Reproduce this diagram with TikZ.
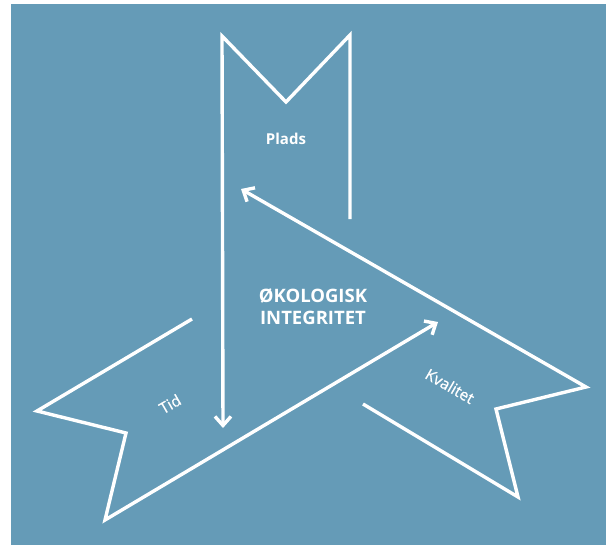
\documentclass[tikz,border=0pt]{standalone}
\usepackage{fontspec}
\setmainfont{Open Sans}
\usetikzlibrary{arrows.meta}
\definecolor{panel}{RGB}{101,155,183}
\tikzset{
  band/.style={draw=white, line width=3.4pt, miter limit=20},
  bandarrow/.style={band, -{Straight Barb[length=9pt,width=16pt,line width=3.4pt]}},
  label/.style={text=white, font=\addfontfeature{FakeBold=0.8}\fontsize{15.5}{18}\selectfont, inner sep=0pt},
  title/.style={text=white, font=\bfseries\fontsize{18.5}{22}\selectfont, align=center, inner sep=0pt}
}
\begin{document}
\begin{tikzpicture}[x=1pt,y=-1pt]
  \useasboundingbox (0,0) rectangle (606,555);
  \fill[panel] (11,4) rectangle (606,545);

  % Plads banner
  \coordinate (p1) at (350,219);
  \coordinate (p2) at (350,35);
  \coordinate (p3) at (286,102);
  \coordinate (p4) at (222,36);
  \coordinate (p5) at (223,428);
  % Tid banner
  \coordinate (t1) at (192,319);
  \coordinate (t2) at (37,411);
  \coordinate (t3) at (126,433);
  \coordinate (t4) at (105,520);
  \coordinate (t5) at (438,322);
  % Kvalitet banner
  \coordinate (k1) at (363,404);
  \coordinate (k2) at (518,497);
  \coordinate (k3) at (496,409);
  \coordinate (k4) at (586,387);
  \coordinate (k5) at (241,189);

  \draw[bandarrow] (p1) -- (p2) -- (p3) -- (p4) -- (p5);
  \draw[bandarrow] (t1) -- (t2) -- (t3) -- (t4) -- (t5);
  \draw[bandarrow] (k1) -- (k2) -- (k3) -- (k4) -- (k5);

  \node[label, font=\bfseries\fontsize{15}{18}\selectfont] (plads) at (286,139) {Plads};
  \node[label, rotate=30] (tid) at (170,404) {Tid};
  \node[label, rotate=-30] (kval) at (450,386) {Kvalitet};
  \node[title] (center) at (313,307) {ØKOLOGISK\\INTEGRITET};
\end{tikzpicture}
\end{document}
